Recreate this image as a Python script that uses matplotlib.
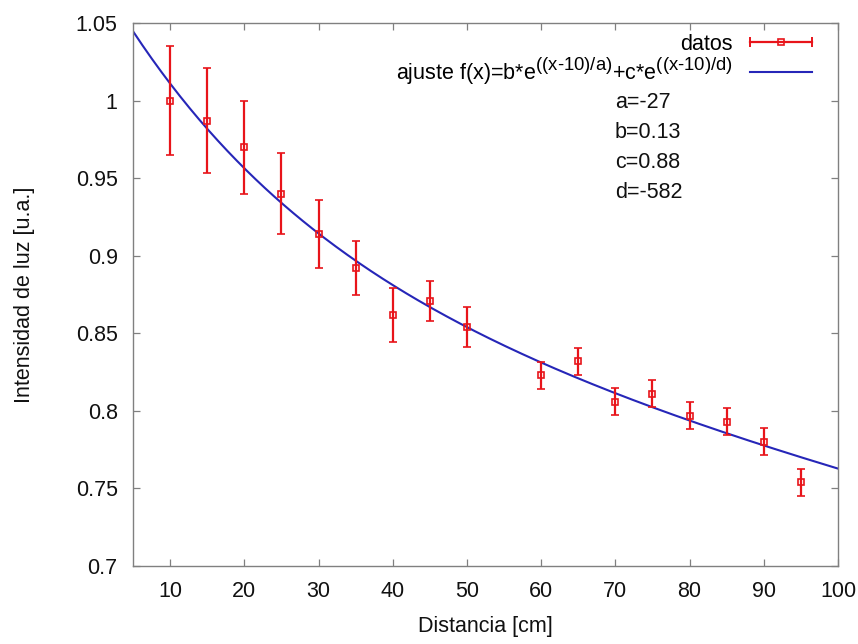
import numpy as np
import matplotlib
matplotlib.use('Agg')
import matplotlib.pyplot as plt
import matplotlib._mathtext as mt
from matplotlib.lines import Line2D
from matplotlib.legend_handler import HandlerLine2D, HandlerTuple
from matplotlib.ticker import FuncFormatter

plt.rcParams['font.family'] = ['Liberation Sans', 'DejaVu Sans']
plt.rcParams['mathtext.fontset'] = 'custom'
plt.rcParams['mathtext.rm'] = 'Liberation Sans'
plt.rcParams['mathtext.it'] = 'Liberation Sans'
plt.rcParams['mathtext.default'] = 'regular'
# superindices algo mas grandes, como en gnuplot
mt.SHRINK_FACTOR = 0.86

# medidas
distancia = [10, 15, 20, 25, 30, 35, 40, 45, 50, 60, 65, 70, 75, 80, 85, 90, 95]
intensidad = [1.000, 0.987, 0.970, 0.940, 0.914, 0.892, 0.862, 0.871, 0.854,
              0.823, 0.832, 0.806, 0.811, 0.797, 0.793, 0.780, 0.754]
error = [0.035, 0.034, 0.030, 0.026, 0.022, 0.0175, 0.0175, 0.013, 0.013,
         0.0087, 0.0087, 0.0087, 0.0087, 0.0087, 0.0087, 0.0087, 0.0087]

# parametros del ajuste (mostrados redondeados)
a, b, c, d = -27.0, 0.129, 0.882, -595.0
par_labels = ['a=-27', 'b=0.13', 'c=0.88', 'd=-582']

rojo = '#e8141a'
azul = '#2626b8'
gris = '#808080'

fig = plt.figure(figsize=(8.58, 6.44), dpi=100)
ax = fig.add_axes([133/858, 1-566/644, (838-133)/858, (566-23)/644])

xs = np.linspace(5, 100, 300)
fx = b*np.exp((xs-10)/a) + c*np.exp((xs-10)/d)
linea, = ax.plot(xs, fx, color=azul, lw=1.5, zorder=2)

eb = ax.errorbar(distancia, intensidad, yerr=error, fmt='s', color=rojo,
                 mfc='none', mec=rojo, ms=5, mew=1.2, elinewidth=1.6,
                 capsize=3, capthick=1.4, zorder=3)

ax.set_xlim(5, 100)
ax.set_ylim(0.7, 1.05)
ax.set_xticks(range(10, 101, 10))
ax.set_yticks(np.arange(0.7, 1.0501, 0.05))
ax.yaxis.set_major_formatter(FuncFormatter(lambda v, p: '%g' % round(v, 3)))

ax.tick_params(direction='in', length=5, width=0.9, color=gris,
               top=True, right=True, labelsize=15.5, pad=11, labelcolor='#111111')
for s in ax.spines.values():
    s.set_color(gris)
    s.set_linewidth(1.0)

ax.set_xlabel('Distancia [cm]', fontsize=15.5, color='#111111')
ax.set_ylabel('Intensidad de luz [u.a.]', fontsize=15.5, color='#111111')
ax.xaxis.set_label_coords(0.5, -0.092)
ax.yaxis.set_label_coords(-0.139, 0.5)

# leyenda estilo gnuplot
h_line = Line2D([], [], color=rojo, lw=1.6, marker='s', ms=5, mfc='none', mec=rojo, mew=1.2)
h_caps = Line2D([], [], color=rojo, lw=0, marker='|', ms=7, mew=1.4)
h_fit = Line2D([], [], color=azul, lw=1.5)
etiqueta = r'ajuste f(x)=b*e$^{\text{((x-10)/a)}}$+c*e$^{\text{((x-10)/d)}}$'
leg = ax.legend([(h_line, h_caps), h_fit],
                ['datos', etiqueta],
                handler_map={h_caps: HandlerLine2D(numpoints=2, marker_pad=0),
                             tuple: HandlerTuple(ndivide=1)},
                loc='upper right', bbox_to_anchor=(0.985, 1.008), frameon=False,
                markerfirst=False, handlelength=2.9, handletextpad=0.8,
                labelspacing=0.05, fontsize=15.5, borderaxespad=0.3)

for i, t in enumerate(par_labels):
    ax.text(615, 644 - (102 + 30*i), t, transform=None, fontsize=15.5,
            color='#111111', va='center', ha='left')

fig.savefig('out.png', dpi=100)
